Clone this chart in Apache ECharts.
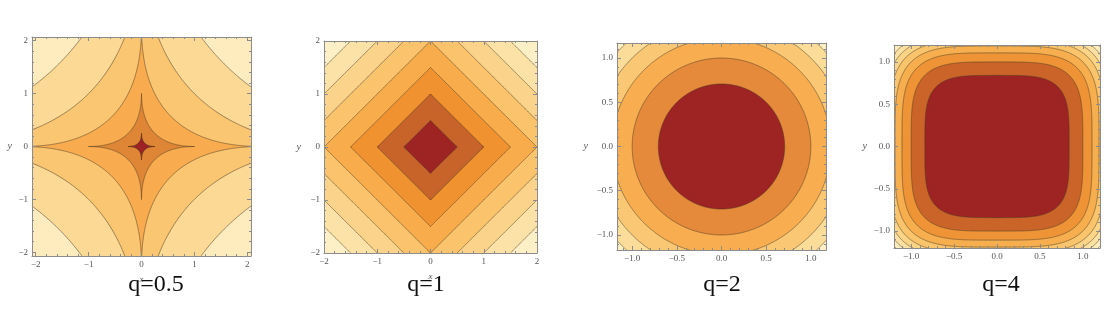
<!DOCTYPE html>
<html>
<head>
<meta charset="utf-8">
<title>Contours of |x|^q + |y|^q</title>
<script src="https://cdn.jsdelivr.net/npm/echarts@6/dist/echarts.min.js"></script>
<style>
  html, body { margin: 0; padding: 0; background: #ffffff; }
  #chart { width: 1116px; height: 322px; }
</style>
</head>
<body>
<div id="chart"></div>
<script>
// Exponent q of each panel: contours of |x|^q + |y|^q
const exponents = [0.5, 1, 2, 4];
const captions = ['q=0.5', 'q=1', 'q=2', 'q=4'];
// Half-width of the plotted square in each panel
const axisExtents = [2.07, 2, 1.17, 1.2];
// Contour levels drawn in each panel
const contourLevels = [
  [0.5, 1, 1.5, 2, 2.5],
  [0.5, 1, 1.5, 2, 2.5, 3, 3.5],
  [0.5, 1, 1.5, 2, 2.5],
  [0.5, 1, 1.5, 2, 2.5, 3, 3.5, 4]
];
// Major tick values and their labels
const tickValues = [
  [-2, -1, 0, 1, 2],
  [-2, -1, 0, 1, 2],
  [-1, -0.5, 0, 0.5, 1],
  [-1, -0.5, 0, 0.5, 1]
];
const tickLabels = [
  ['\u22122', '\u22121', '0', '1', '2'],
  ['\u22122', '\u22121', '0', '1', '2'],
  ['\u22121.0', '\u22120.5', '0.0', '0.5', '1.0'],
  ['\u22121.0', '\u22120.5', '0.0', '0.5', '1.0']
];
const minorStep = [0.2, 0.2, 0.1, 0.1];

// Band fills, from lowest level band outward to the region above the last level
const bandColors = [
  ['#9c2224', '#df8636', '#f8ac4f', '#fbc672', '#fcd995', '#feecbf'],
  ['#9e2323', '#c8642a', '#f0922f', '#f8ac4c', '#fac36c', '#fbd38b', '#fde2a7', '#fef0c6'],
  ['#9e2323', '#e5893a', '#f8ae50', '#fac875', '#fcdc99', '#feeec3'],
  ['#9e2323', '#cb6429', '#ee9436', '#f6ae4e', '#f9c46b', '#fbd488', '#fce1a2', '#fdedbd', '#fff6d8']
];
// Plot rectangles [left, top, width, height]
const gridRects = [
  [32, 37, 219, 219],
  [324, 41, 213, 212],
  [617, 43, 209, 207],
  [894, 45, 206, 203]
];
const yNameGap = [20, 23, 29, 27];
const captionCenters = [156, 426, 722, 1001];

const frameColor = '#8c8c8c';
const labelColor = '#555555';
const contourStroke = 'rgba(80, 64, 40, 0.55)';
const serif = '"Liberation Serif", "DejaVu Serif", serif';

function minorValues(i) {
  const e = axisExtents[i], s = minorStep[i];
  const out = [];
  const start = Math.ceil(-e / s - 1e-9);
  const end = Math.floor(e / s + 1e-9);
  for (let k = start; k <= end; k++) out.push(+(k * s).toFixed(6));
  return out;
}

function labelFor(i) {
  return function (v) {
    const idx = tickValues[i].findIndex(t => Math.abs(t - v) < 1e-9);
    return idx >= 0 ? tickLabels[i][idx] : '';
  };
}

function axisSet(i, dim) {
  const e = axisExtents[i];
  const isX = dim === 'x';
  const sides = isX ? ['bottom', 'top'] : ['left', 'right'];
  const axes = [];
  sides.forEach((side, sIdx) => {
    // major ticks and frame line
    const major = {
      type: 'value', gridIndex: i, min: -e, max: e, position: side, z: 10,
      axisLine: { show: true, onZero: false, lineStyle: { color: frameColor, width: 1 } },
      splitLine: { show: false },
      axisTick: { show: true, inside: true, length: 4, customValues: tickValues[i],
        lineStyle: { color: frameColor, width: 1 } },
      axisLabel: { show: sIdx === 0, customValues: tickValues[i], formatter: labelFor(i),
        color: labelColor, fontFamily: serif, fontSize: 9, margin: 4, hideOverlap: false }
    };
    if (sIdx === 0) {
      if (isX && i < 2) {
        major.name = 'x';
        major.nameLocation = 'middle';
        major.nameGap = 19;
        major.nameTextStyle = { color: labelColor, fontFamily: serif, fontStyle: 'italic', fontSize: 9 };
      }
      if (!isX) {
        major.name = 'y';
        major.nameLocation = 'middle';
        major.nameRotate = 0;
        major.nameGap = yNameGap[i];
        major.nameTextStyle = { color: labelColor, fontFamily: serif, fontStyle: 'italic', fontSize: 10 };
      }
    }
    axes.push(major);
    // minor ticks
    axes.push({
      type: 'value', gridIndex: i, min: -e, max: e, position: side, z: 10,
      axisLine: { show: false, onZero: false },
      splitLine: { show: false },
      axisTick: { show: true, inside: true, length: 2, customValues: minorValues(i),
        lineStyle: { color: frameColor, width: 1 } },
      axisLabel: { show: false }
    });
  });
  return axes;
}

const grids = [], xAxes = [], yAxes = [], series = [], graphics = [];

exponents.forEach((q, i) => {
  const r = gridRects[i];
  const colors = bandColors[i];
  const levels = contourLevels[i];
  grids.push({
    left: r[0], top: r[1], width: r[2], height: r[3],
    show: true, backgroundColor: colors[levels.length], borderWidth: 0
  });
  const xStart = xAxes.length;
  const yStart = yAxes.length;
  xAxes.push(...axisSet(i, 'x'));
  yAxes.push(...axisSet(i, 'y'));

  // filled sub-level regions {|x|^q + |y|^q < c}, largest first so smaller ones sit on top
  const data = levels.map((c, k) => ({ value: [c], band: k })).reverse();
  series.push({
    type: 'custom',
    coordinateSystem: 'cartesian2d',
    xAxisIndex: xStart,
    yAxisIndex: yStart,
    clip: true,
    silent: true,
    z: 2,
    data: data,
    renderItem: function (params, api) {
      const c = api.value(0);
      const band = data[params.dataIndex].band;
      const rad = Math.pow(c, 1 / q);
      const N = 1600;
      const pts = [];
      for (let j = 0; j < N; j++) {
        const t = 2 * Math.PI * j / N;
        const ct = Math.cos(t), st = Math.sin(t);
        const x = rad * Math.sign(ct) * Math.pow(Math.abs(ct), 2 / q);
        const y = rad * Math.sign(st) * Math.pow(Math.abs(st), 2 / q);
        pts.push(api.coord([x, y]));
      }
      return {
        type: 'polygon',
        shape: { points: pts },
        style: { fill: colors[band], stroke: contourStroke, lineWidth: 1 }
      };
    }
  });

  graphics.push({
    type: 'text',
    x: captionCenters[i],
    y: 285,
    style: {
      text: captions[i],
      font: '24px ' + serif,
      fill: '#111111',
      textAlign: 'center',
      textVerticalAlign: 'middle'
    }
  });
});

const chart = echarts.init(document.getElementById('chart'), null, { renderer: 'canvas' });
chart.setOption({
  animation: false,
  backgroundColor: '#ffffff',
  grid: grids,
  xAxis: xAxes,
  yAxis: yAxes,
  series: series,
  graphic: graphics
});
</script>
</body>
</html>
